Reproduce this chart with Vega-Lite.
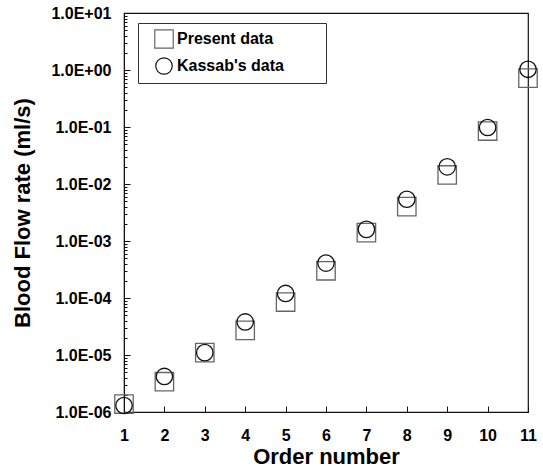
{
  "$schema": "https://vega.github.io/schema/vega-lite/v6.json",
  "width": 404,
  "height": 399,
  "autosize": {"type": "none"},
  "padding": {"left": 124, "top": 13, "right": 15, "bottom": 58},
  "background": "white",
  "config": {
    "font": "Liberation Sans",
    "view": {"stroke": "#111", "strokeWidth": 1.2},
    "axis": {"grid": false, "domainColor": "#111", "tickColor": "#111", "labelColor": "#000", "titleColor": "#000", "labelFont": "Liberation Sans", "titleFont": "Liberation Sans", "labelFontWeight": "bold", "titleFontWeight": "bold"}
  },
  "data": {
    "values": [
      {"order": 1, "series": "Present data", "flow": 1.38e-6},
      {"order": 2, "series": "Present data", "flow": 3.4e-6},
      {"order": 3, "series": "Present data", "flow": 1.1e-5},
      {"order": 4, "series": "Present data", "flow": 2.7e-5},
      {"order": 5, "series": "Present data", "flow": 8.5e-5},
      {"order": 6, "series": "Present data", "flow": 3.0e-4},
      {"order": 7, "series": "Present data", "flow": 1.4e-3},
      {"order": 8, "series": "Present data", "flow": 4.0e-3},
      {"order": 9, "series": "Present data", "flow": 1.44e-2},
      {"order": 10, "series": "Present data", "flow": 0.085},
      {"order": 11, "series": "Present data", "flow": 0.72},
      {"order": 1, "series": "Kassab's data", "flow": 1.3e-6},
      {"order": 2, "series": "Kassab's data", "flow": 4.2e-6},
      {"order": 3, "series": "Kassab's data", "flow": 1.1e-5},
      {"order": 4, "series": "Kassab's data", "flow": 3.8e-5},
      {"order": 5, "series": "Kassab's data", "flow": 1.2e-4},
      {"order": 6, "series": "Kassab's data", "flow": 4.1e-4},
      {"order": 7, "series": "Kassab's data", "flow": 1.6e-3},
      {"order": 8, "series": "Kassab's data", "flow": 5.4e-3},
      {"order": 9, "series": "Kassab's data", "flow": 2.0e-2},
      {"order": 10, "series": "Kassab's data", "flow": 0.098},
      {"order": 11, "series": "Kassab's data", "flow": 1.03}
    ]
  },
  "mark": {"type": "point", "filled": false, "strokeWidth": 1.3, "opacity": 1},
  "encoding": {
    "x": {
      "field": "order", "type": "quantitative",
      "scale": {"domain": [1, 11], "nice": false, "zero": false},
      "axis": {"title": "Order number", "values": [1,2,3,4,5,6,7,8,9,10,11], "tickSize": -6, "labelPadding": 21, "labelFontSize": 16, "titleFontSize": 22, "titlePadding": 3, "labelFlush": false}
    },
    "y": {
      "field": "flow", "type": "quantitative",
      "scale": {"type": "log", "domain": [1e-6, 10], "nice": false},
      "axis": {
        "title": "Blood Flow rate (ml/s)",
        "values": [1e-6,2e-6,3e-6,4e-6,5e-6,6e-6,7e-6,8e-6,9e-6,1e-5,2e-5,3e-5,4e-5,5e-5,6e-5,7e-5,8e-5,9e-5,1e-4,2e-4,3e-4,4e-4,5e-4,6e-4,7e-4,8e-4,9e-4,1e-3,2e-3,3e-3,4e-3,5e-3,6e-3,7e-3,8e-3,9e-3,1e-2,2e-2,3e-2,4e-2,5e-2,6e-2,7e-2,8e-2,9e-2,0.1,0.2,0.3,0.4,0.5,0.6,0.7,0.8,0.9,1,2,3,4,5,6,7,8,9,10],
        "labelExpr": "abs(log(datum.value)/LN10 - round(log(datum.value)/LN10)) > 0.001 ? '' : '1.0E' + (round(log(datum.value)/LN10) >= 0 ? '+' : '-') + (abs(round(log(datum.value)/LN10)) < 10 ? '0' : '') + abs(round(log(datum.value)/LN10))",
        "tickSize": {"condition": {"test": "abs(log(datum.value)/LN10 - round(log(datum.value)/LN10)) > 0.001", "value": -3}, "value": -6},
        "labelOverlap": false,
        "labelPadding": 19,
        "labelFontSize": 16,
        "titleFontSize": 22,
        "titlePadding": 16,
        "labelFlush": false
      }
    },
    "shape": {
      "field": "series", "type": "nominal",
      "scale": {"domain": ["Present data", "Kassab's data"], "range": ["square", "circle"]},
      "legend": {"title": null, "orient": "none", "legendX": 14, "legendY": 10, "strokeColor": "#333", "fillColor": "white", "padding": 6, "symbolOffset": 10, "labelFontSize": 16, "labelFontWeight": "bold", "labelFont": "Liberation Sans", "labelColor": "#000", "symbolSize": 160, "symbolStrokeWidth": 1.2, "labelOffset": 3, "rowPadding": 4, "labelLimit": 400, "labelExpr": "datum.label + '\u2800\u2800\u2800'"}
    },
    "color": {
      "field": "series", "type": "nominal",
      "scale": {"domain": ["Present data", "Kassab's data"], "range": ["#666666", "#111111"]},
      "legend": {"title": null}
    },
    "size": {
      "field": "series", "type": "nominal",
      "scale": {"domain": ["Present data", "Kassab's data"], "range": [340, 270]},
      "legend": null
    }
  }
}
